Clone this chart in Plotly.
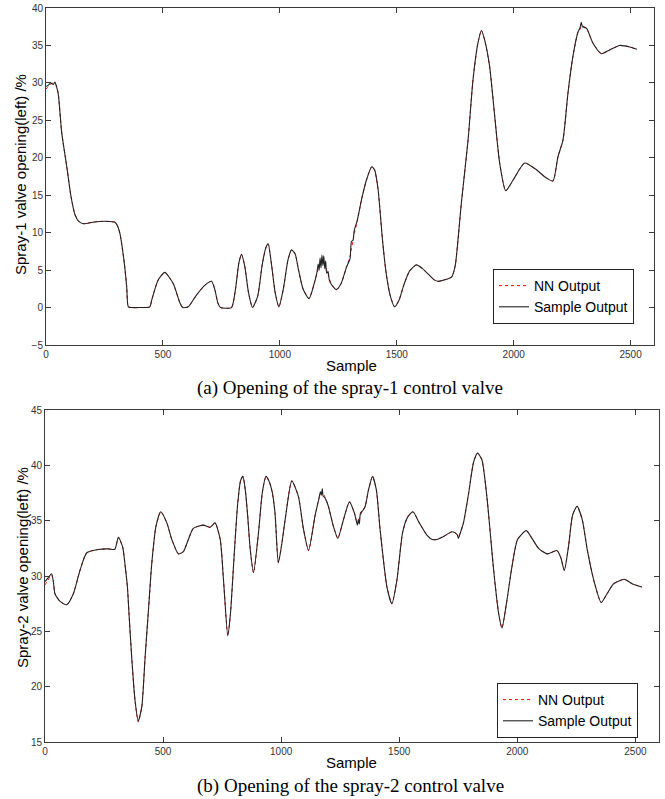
import plotly.graph_objects as go

# ---- Spray-1 valve opening (%), sampled knots ----
s1_x = [0, 10, 20, 31, 38, 45, 53, 67, 88, 107, 124, 140, 160, 200, 231, 270, 295, 306, 316, 333,
        345, 352, 365, 400, 444, 452, 480, 508, 544, 573, 585, 608, 644, 680, 708, 722, 735, 746,
        793, 810, 825, 836, 850, 866, 883, 905, 925, 940, 950, 965, 980, 996, 1015, 1035, 1050,
        1065, 1080, 1100, 1125, 1145, 1158, 1164, 1168, 1172, 1176, 1180, 1184, 1188, 1192, 1196,
        1200, 1206, 1212, 1225, 1242, 1262, 1285, 1300, 1306, 1313, 1318, 1330, 1350, 1370, 1393,
        1405, 1420, 1439, 1455, 1472, 1491, 1510, 1530, 1555, 1584, 1610, 1640, 1660, 1677, 1705,
        1735, 1750, 1762, 1776, 1805, 1826, 1847, 1862, 1876, 1897, 1919, 1940, 1966, 1997, 2047,
        2097, 2140, 2168, 2189, 2211, 2232, 2253, 2275, 2283, 2289, 2294, 2311, 2339, 2375, 2410,
        2453, 2496, 2527]
s1_sample = [29.5, 29.7, 30.0, 29.8, 30.1, 29.5, 28.4, 23.4, 19.0, 14.8, 12.4, 11.5, 11.2, 11.4, 11.5,
             11.5, 11.4, 10.9, 9.9, 6.4, 2.8, 0.1, 0.0, 0.0, 0.1, 1.0, 3.7, 4.7, 3.2, 0.6, 0.0, 0.1,
             1.7, 3.0, 3.5, 2.4, 0.6, 0.0, 0.0, 2.4, 6.0, 7.1, 5.5, 2.0, 0.0, 1.5, 5.8, 8.0, 8.5, 5.6,
             2.0, 0.1, 2.5, 6.4, 7.7, 7.2, 5.0, 2.4, 1.2, 3.0, 4.6, 5.8, 5.0, 6.6, 5.3, 7.0, 5.6, 6.9,
             5.2, 6.2, 4.6, 4.8, 3.6, 2.9, 2.4, 3.2, 5.4, 6.5, 8.8, 9.0, 10.3, 11.5, 14.5, 17.0, 18.8,
             18.4, 15.8, 9.0, 4.5, 1.6, 0.1, 1.0, 3.0, 4.9, 5.7, 5.2, 4.3, 3.7, 3.5, 3.7, 4.1, 5.6,
             9.1, 13.9, 22.4, 30.4, 35.3, 37.0, 35.7, 32.2, 25.5, 19.3, 15.6, 17.0, 19.3, 18.4, 17.3,
             16.9, 20.1, 22.4, 28.6, 33.5, 36.8, 37.3, 38.1, 37.5, 37.3, 35.3, 33.9, 34.4, 35.0, 34.8,
             34.5]
s1_nn = [29.2, 29.5, 29.8, 30.0, 29.9, 29.6, 28.4, 23.4, 19.0, 14.8, 12.4, 11.5, 11.2, 11.4, 11.5,
         11.5, 11.4, 10.9, 9.9, 6.4, 2.8, 0.1, 0.0, 0.0, 0.1, 1.0, 3.7, 4.7, 3.2, 0.6, 0.0, 0.1,
         1.7, 3.0, 3.5, 2.4, 0.6, 0.0, 0.0, 2.4, 6.0, 7.1, 5.5, 2.0, 0.0, 1.5, 5.8, 7.9, 8.5, 5.6,
         2.0, 0.1, 2.5, 6.4, 7.7, 7.2, 5.0, 2.4, 1.2, 3.0, 4.5, 5.1, 5.4, 5.7, 5.9, 6.0, 6.0, 5.9,
         5.7, 5.4, 5.0, 4.5, 3.8, 2.9, 2.4, 3.2, 5.4, 6.8, 7.8, 9.0, 9.8, 11.4, 14.5, 17.0, 18.8,
         18.4, 15.8, 9.0, 4.5, 1.6, 0.1, 1.0, 3.0, 4.9, 5.7, 5.2, 4.3, 3.7, 3.5, 3.7, 4.1, 5.6,
         9.1, 13.9, 22.4, 30.4, 35.3, 37.0, 35.7, 32.2, 25.5, 19.3, 15.6, 17.0, 19.3, 18.4, 17.3,
         16.9, 20.1, 22.4, 28.6, 33.5, 36.8, 37.1, 37.6, 37.6, 37.3, 35.3, 33.9, 34.4, 35.0, 34.8,
         34.5]

# ---- Spray-2 valve opening (%), sampled knots ----
s2_x = [0, 12, 28, 36, 42, 64, 92, 120, 148, 177, 226, 270, 295, 311, 329, 340, 349, 356, 367, 381,
        395, 410, 424, 438, 452, 470, 490, 516, 537, 565, 586, 607, 628, 671, 699, 720, 742, 756,
        774, 785, 800, 815, 828, 838, 848, 858, 869, 883, 904, 920, 936, 950, 962, 974, 988, 1002,
        1017, 1045, 1073, 1094, 1116, 1144, 1160, 1166, 1170, 1174, 1178, 1184, 1200, 1221, 1240,
        1264, 1289, 1310, 1318, 1323, 1327, 1331, 1336, 1345, 1356, 1370, 1387, 1403, 1419, 1448,
        1469, 1490, 1514, 1535, 1558, 1585, 1617, 1640, 1659, 1690, 1723, 1737, 1746, 1751, 1756,
        1772, 1794, 1815, 1832, 1850, 1871, 1900, 1921, 1935, 1956, 1977, 2001, 2038, 2062, 2090,
        2126, 2168, 2185, 2199, 2217, 2234, 2253, 2275, 2296, 2324, 2355, 2380, 2408, 2453, 2486,
        2528]
s2_sample = [29.5, 29.8, 30.2, 29.4, 28.4, 27.7, 27.4, 28.4, 30.5, 32.1, 32.4, 32.45, 32.4, 33.5,
             32.6, 30.8, 29.0, 26.5, 22.7, 18.8, 16.9, 18.2, 22.7, 26.9, 31.1, 34.5, 35.8, 34.8,
             33.3, 32.0, 32.2, 33.3, 34.3, 34.6, 34.4, 34.8, 33.3, 29.6, 24.6, 26.5, 31.5, 36.3,
             38.6, 39.0, 37.8, 35.5, 32.4, 30.3, 33.9, 37.5, 39.0, 38.5, 37.6, 35.7, 31.2, 32.8,
             35.1, 38.6, 37.2, 34.3, 32.3, 35.5, 37.0, 37.6, 37.3, 37.9, 37.2, 37.1, 36.3, 34.5,
             33.4, 35.1, 36.7, 35.7, 35.0, 34.6, 35.1, 34.7, 35.7, 35.9, 36.3, 37.8, 39.0, 37.8,
             34.2, 29.0, 27.5, 29.6, 33.9, 35.3, 35.8, 34.8, 33.7, 33.3, 33.3, 33.6, 34.0, 33.9,
             33.7, 33.4, 33.7, 34.8, 37.5, 40.3, 41.1, 40.5, 37.2, 30.5, 26.6, 25.3, 27.8, 30.8,
             33.3, 34.1, 33.4, 32.5, 32.0, 32.3, 31.6, 30.5, 32.7, 35.5, 36.3, 35.1, 32.4, 29.6,
             27.6, 28.4, 29.3, 29.7, 29.3, 29.0]
s2_nn = [29.2, 29.6, 30.1, 29.4, 28.4, 27.7, 27.4, 28.4, 30.5, 32.1, 32.4, 32.45, 32.4, 33.5,
         32.6, 30.8, 29.0, 26.5, 22.7, 18.8, 16.8, 18.2, 22.7, 26.9, 31.1, 34.5, 35.8, 34.8,
         33.3, 32.0, 32.2, 33.3, 34.3, 34.6, 34.4, 34.8, 33.3, 29.6, 24.6, 26.5, 31.5, 36.3,
         38.6, 39.0, 37.8, 35.5, 32.4, 30.3, 33.9, 37.5, 39.0, 38.5, 37.6, 35.7, 31.2, 32.8,
         35.1, 38.6, 37.2, 34.3, 32.3, 35.5, 37.0, 37.3, 37.5, 37.6, 37.5, 37.2, 36.3, 34.5,
         33.4, 35.1, 36.7, 35.7, 35.1, 34.9, 35.0, 35.2, 35.5, 35.9, 36.3, 37.8, 39.0, 37.8,
         34.2, 29.0, 27.5, 29.6, 33.9, 35.3, 35.8, 34.8, 33.7, 33.3, 33.3, 33.6, 34.0, 33.9,
         33.7, 33.6, 33.8, 34.8, 37.5, 40.3, 41.1, 40.5, 37.2, 30.5, 26.6, 25.3, 27.8, 30.8,
         33.3, 34.1, 33.4, 32.5, 32.0, 32.3, 31.6, 30.5, 32.7, 35.5, 36.3, 35.1, 32.4, 29.6,
         27.6, 28.4, 29.3, 29.7, 29.3, 29.0]

x_ticks = [0, 500, 1000, 1500, 2000, 2500]
y1_ticks = [-5, 0, 5, 10, 15, 20, 25, 30, 35, 40]
y2_ticks = [15, 20, 25, 30, 35, 40, 45]

SANS = "Arial, Liberation Sans, sans-serif"
SERIF = "Times New Roman, Liberation Serif, serif"
AX = "#3a3a3a"

fig = go.Figure()

line_kw = dict(mode="lines", line_shape="spline")
fig.add_trace(go.Scatter(x=s1_x, y=s1_nn, name="NN Output", legend="legend",
                         line=dict(color="red", width=1, dash="dot", smoothing=0.6),
                         xaxis="x", yaxis="y", **line_kw))
fig.add_trace(go.Scatter(x=s1_x, y=s1_sample, name="Sample Output", legend="legend",
                         line=dict(color="#222222", width=1.1, smoothing=0.6),
                         xaxis="x", yaxis="y", **line_kw))
fig.add_trace(go.Scatter(x=s2_x, y=s2_nn, name="NN Output", legend="legend2",
                         line=dict(color="red", width=1, dash="dot", smoothing=0.6),
                         xaxis="x2", yaxis="y2", **line_kw))
fig.add_trace(go.Scatter(x=s2_x, y=s2_sample, name="Sample Output", legend="legend2",
                         line=dict(color="#222222", width=1.1, smoothing=0.6),
                         xaxis="x2", yaxis="y2", **line_kw))

W, H = 665, 799

def axis_common():
    return dict(showline=True, linecolor=AX, linewidth=1, mirror="allticks",
                ticks="inside", ticklen=5, tickcolor=AX, showgrid=False, zeroline=False,
                tickfont=dict(family=SANS, size=10, color="#333333"), automargin=False)

legend_style = dict(xanchor="left", yanchor="top", bgcolor="white",
                    bordercolor="#222222", borderwidth=1,
                    font=dict(family=SANS, size=14, color="black"), itemwidth=30,
                    tracegroupgap=0)

fig.update_layout(
    width=W, height=H,
    margin=dict(l=0, r=0, t=0, b=0),
    paper_bgcolor="white", plot_bgcolor="white",
    xaxis=dict(domain=[46 / W, 654 / W], range=[0, 2600], tickvals=x_ticks,
               anchor="y", **axis_common()),
    yaxis=dict(domain=[1 - 345 / H, 1 - 8 / H], range=[-5, 40], tickvals=y1_ticks,
               anchor="x", **axis_common()),
    xaxis2=dict(domain=[45 / W, 659 / W], range=[0, 2600], tickvals=x_ticks,
                anchor="y2", **axis_common()),
    yaxis2=dict(domain=[1 - 742 / H, 1 - 410 / H], range=[15, 45], tickvals=y2_ticks,
                anchor="x2", **axis_common()),
    legend=dict(x=493 / W, y=1 - 269 / H, **legend_style),
    legend2=dict(x=497 / W, y=1 - 683 / H, **legend_style),
    showlegend=True,
)

ann = [
    dict(text="Sample", x=352 / W, y=1 - 365 / H, font=dict(family=SANS, size=15, color="black")),
    dict(text="(a) Opening of the spray-1 control valve", x=350 / W, y=1 - 388 / H,
         font=dict(family=SERIF, size=19, color="black")),
    dict(text="Sample", x=352 / W, y=1 - 762 / H, font=dict(family=SANS, size=15, color="black")),
    dict(text="(b) Opening of the spray-2 control valve", x=350 / W, y=1 - 786 / H,
         font=dict(family=SERIF, size=19, color="black")),
    dict(text="Spray-1 valve opening(left) /%", x=20 / W, y=1 - 175 / H, textangle=-90,
         font=dict(family=SANS, size=15, color="black")),
    dict(text="Spray-2 valve opening(left) /%", x=22 / W, y=1 - 568 / H, textangle=-90,
         font=dict(family=SANS, size=15, color="black")),
]
for a in ann:
    fig.add_annotation(xref="paper", yref="paper", showarrow=False,
                       xanchor="center", yanchor="middle", **a)

fig.write_html("out.html")
